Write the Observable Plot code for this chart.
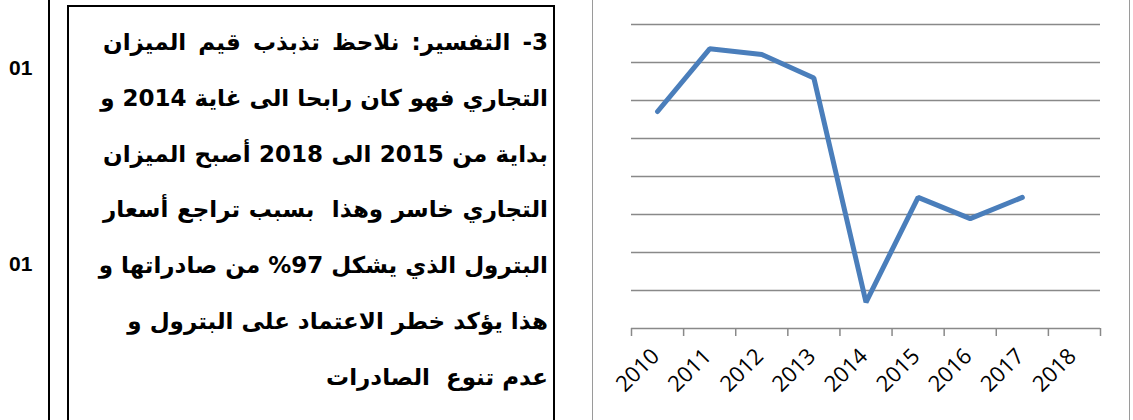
<!DOCTYPE html>
<html>
<head>
<meta charset="utf-8">
<script src="https://cdn.jsdelivr.net/npm/d3@7"></script>
<script src="https://cdn.jsdelivr.net/npm/@observablehq/plot@0.6"></script>
<style>
  html, body { margin: 0; padding: 0; background: #fff; }
  body { width: 1133px; height: 420px; position: relative; overflow: hidden; }
  .num { position: absolute; left: 9px; font: bold 21px "Liberation Sans", Arial, sans-serif; color: #000; }
  .vline { position: absolute; left: 48px; top: 0; width: 2px; height: 420px; background: #000; }
  .box { position: absolute; left: 67px; top: 5px; width: 484px; height: 440px; border: 2px solid #000; border-bottom: none; }
  .ln { position: absolute; left: 103px; width: 445px; direction: rtl; white-space: pre;
        font: bold 23px "DejaVu Sans", sans-serif; color: #000; line-height: 32px; text-align: right; }
  .just { text-align: justify; text-align-last: justify; }
  .frame { position: absolute; top: 0; width: 1px; height: 420px; background: #9a9a9a; }
  #chart { position: absolute; left: 593px; top: 0; }
</style>
</head>
<body>
<div class="num" style="top:56px">01</div>
<div class="num" style="top:252px">01</div>
<div class="vline"></div>
<div class="box"></div>
<div id="text"></div>
<div class="frame" style="left:592px"></div>
<div class="frame" style="left:1129px"></div>
<div id="chart"></div>
<script>
// ---- data ----
const years = [2010, 2011, 2012, 2013, 2014, 2015, 2016, 2017, 2018];
const valueYears = [2010, 2011, 2012, 2013, 2014, 2015, 2016, 2017];
const values = [5.71, 7.36, 7.21, 6.59, 0.69, 3.45, 2.89, 3.45];
const gridValues = [1, 2, 3, 4, 5, 6, 7, 8];
const textLines = [
  "3- التفسير: نلاحظ تذبذب قيم الميزان",
  "التجاري فهو كان رابحا الى غاية 2014 و",
  "بداية من 2015 الى 2018 أصبح الميزان",
  "التجاري خاسر وهذا  بسبب تراجع أسعار",
  "البترول الذي يشكل 97% من صادراتها و",
  "هذا يؤكد خطر الاعتماد على البترول و",
  "عدم تنوع  الصادرات"
];

// ---- text panel ----
const tc = document.getElementById("text");
textLines.forEach((t, i) => {
  const d = document.createElement("div");
  d.className = "ln" + (i < 5 ? " just" : "");
  d.style.top = (26 + i * 55.8) + "px";
  d.textContent = t;
  tc.appendChild(d);
});

// ---- chart ----
const table = valueYears.map((y, i) => ({year: y, value: values[i]}));
const boundaries = [years[0] - 0.5, ...years.map(y => y + 0.5)];

const chart = Plot.plot({
  width: 536,
  height: 420,
  marginLeft: 38,
  marginRight: 29,
  marginTop: 24,
  marginBottom: 92,
  style: {fontFamily: "'Open Sans', sans-serif", fontSize: "22px", background: "transparent", color: "#000"},
  x: {type: "linear", domain: [years[0] - 0.5, years[years.length - 1] + 0.5], label: null},
  y: {domain: [0, 8], axis: null},
  marks: [
    Plot.ruleY(gridValues, {stroke: "#898989", strokeWidth: 1.5}),
    Plot.ruleY([0], {stroke: "#898989", strokeWidth: 1.5}),
    Plot.axisX({ticks: boundaries, tickSize: 8, tickFormat: () => "", stroke: "#898989", strokeWidth: 1.5}),
    Plot.axisX({ticks: years, tickSize: 0, tickPadding: 24, tickRotate: -45, dx: -2,
                tickFormat: d => String(d), fill: "#000"}),
    Plot.line(table, {x: "year", y: "value", stroke: "#4a7ebb", strokeWidth: 5,
                      strokeLinecap: "round", strokeLinejoin: "miter"})
  ]
});
document.getElementById("chart").appendChild(chart);
</script>
</body>
</html>
